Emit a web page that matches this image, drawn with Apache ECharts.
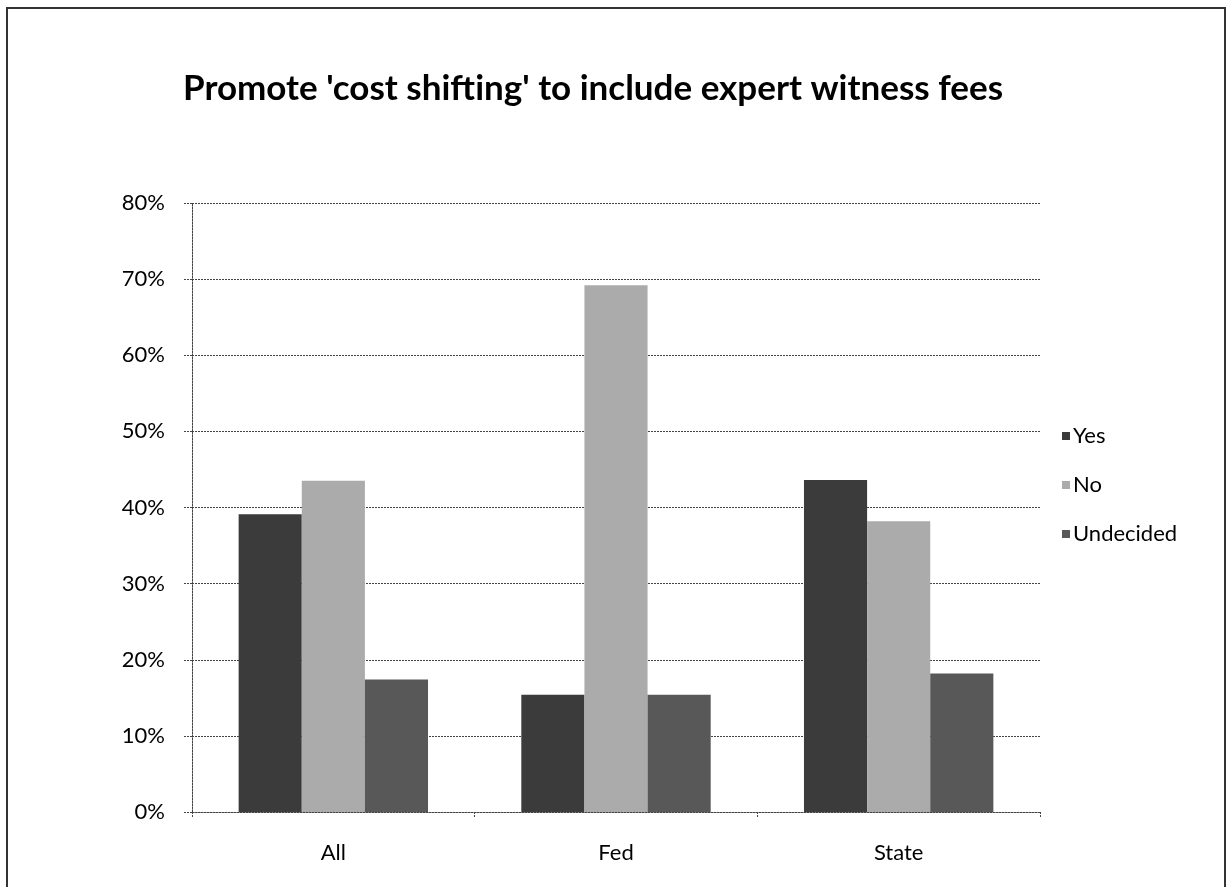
<!DOCTYPE html>
<html>
<head>
<meta charset="utf-8">
<title>Promote cost shifting</title>
<script src="https://cdn.jsdelivr.net/npm/echarts@6/dist/echarts.min.js"></script>
<style>
  html, body { margin: 0; padding: 0; background: #fff; }
  #chart_container { width: 1229px; height: 887px; }
</style>
</head>
<body>
<div id="chart_container"></div>
<script>
"use strict";

var categories = ['All', 'Fed', 'State'];
var yesValues = [39.1, 15.4, 43.6];
var noValues = [43.5, 69.2, 38.2];
var undecidedValues = [17.4, 15.4, 18.2];
var seriesNames = ['Yes', 'No', 'Undecided'];
var seriesColors = ['#3b3b3b', '#ababab', '#585858'];

var myChart = echarts.init(document.getElementById('chart_container'));

var labelFont = {fontFamily: 'Lato', fontSize: 22, color: '#000'};
var dotted = {color: '#444', width: 1, type: [2, 1]};

function makeSeries(name, data, color) {
    return {
        name: name,
        type: 'bar',
        data: data.map(function (v) { return v / 100; }),
        barGap: '0%',
        barCategoryGap: '33%',
        itemStyle: {color: color},
        emphasis: {disabled: true}
    };
}

var option = {
    animation: false,
    backgroundColor: '#fff',
    title: {
        text: "Promote 'cost shifting' to include expert witness fees",
        left: 178,
        top: 66,
        textStyle: {fontFamily: 'Lato', fontWeight: 'bold', fontSize: 35, color: '#000'}
    },
    legend: {
        orient: 'vertical',
        left: 1057,
        top: 420,
        itemWidth: 8,
        itemHeight: 8,
        itemGap: 27,
        icon: 'rect',
        textStyle: {fontFamily: 'Lato', fontSize: 22, color: '#000', padding: [0, 0, 0, -2]},
        data: seriesNames
    },
    graphic: [{
        type: 'rect',
        shape: {x: 7, y: 8, width: 1218, height: 900},
        style: {fill: null, stroke: '#333', lineWidth: 2},
        silent: true
    }],
    grid: {left: 192, right: 189, top: 203, bottom: 75},
    xAxis: {
        type: 'category',
        data: categories,
        axisLine: {lineStyle: dotted},
        axisTick: {show: true, length: 6, lineStyle: dotted},
        axisLabel: Object.assign({margin: 30}, labelFont)
    },
    yAxis: {
        type: 'value',
        min: 0,
        max: 0.8,
        interval: 0.1,
        axisLine: {show: true, lineStyle: dotted},
        axisTick: {show: true, length: 9, lineStyle: dotted},
        splitLine: {show: true, lineStyle: dotted},
        axisLabel: Object.assign({
            margin: 27,
            formatter: function (v) { return Math.round(v * 100) + '%'; }
        }, labelFont)
    },
    series: [
        makeSeries(seriesNames[0], yesValues, seriesColors[0]),
        makeSeries(seriesNames[1], noValues, seriesColors[1]),
        makeSeries(seriesNames[2], undecidedValues, seriesColors[2])
    ]
};

myChart.setOption(option);
</script>
</body>
</html>
